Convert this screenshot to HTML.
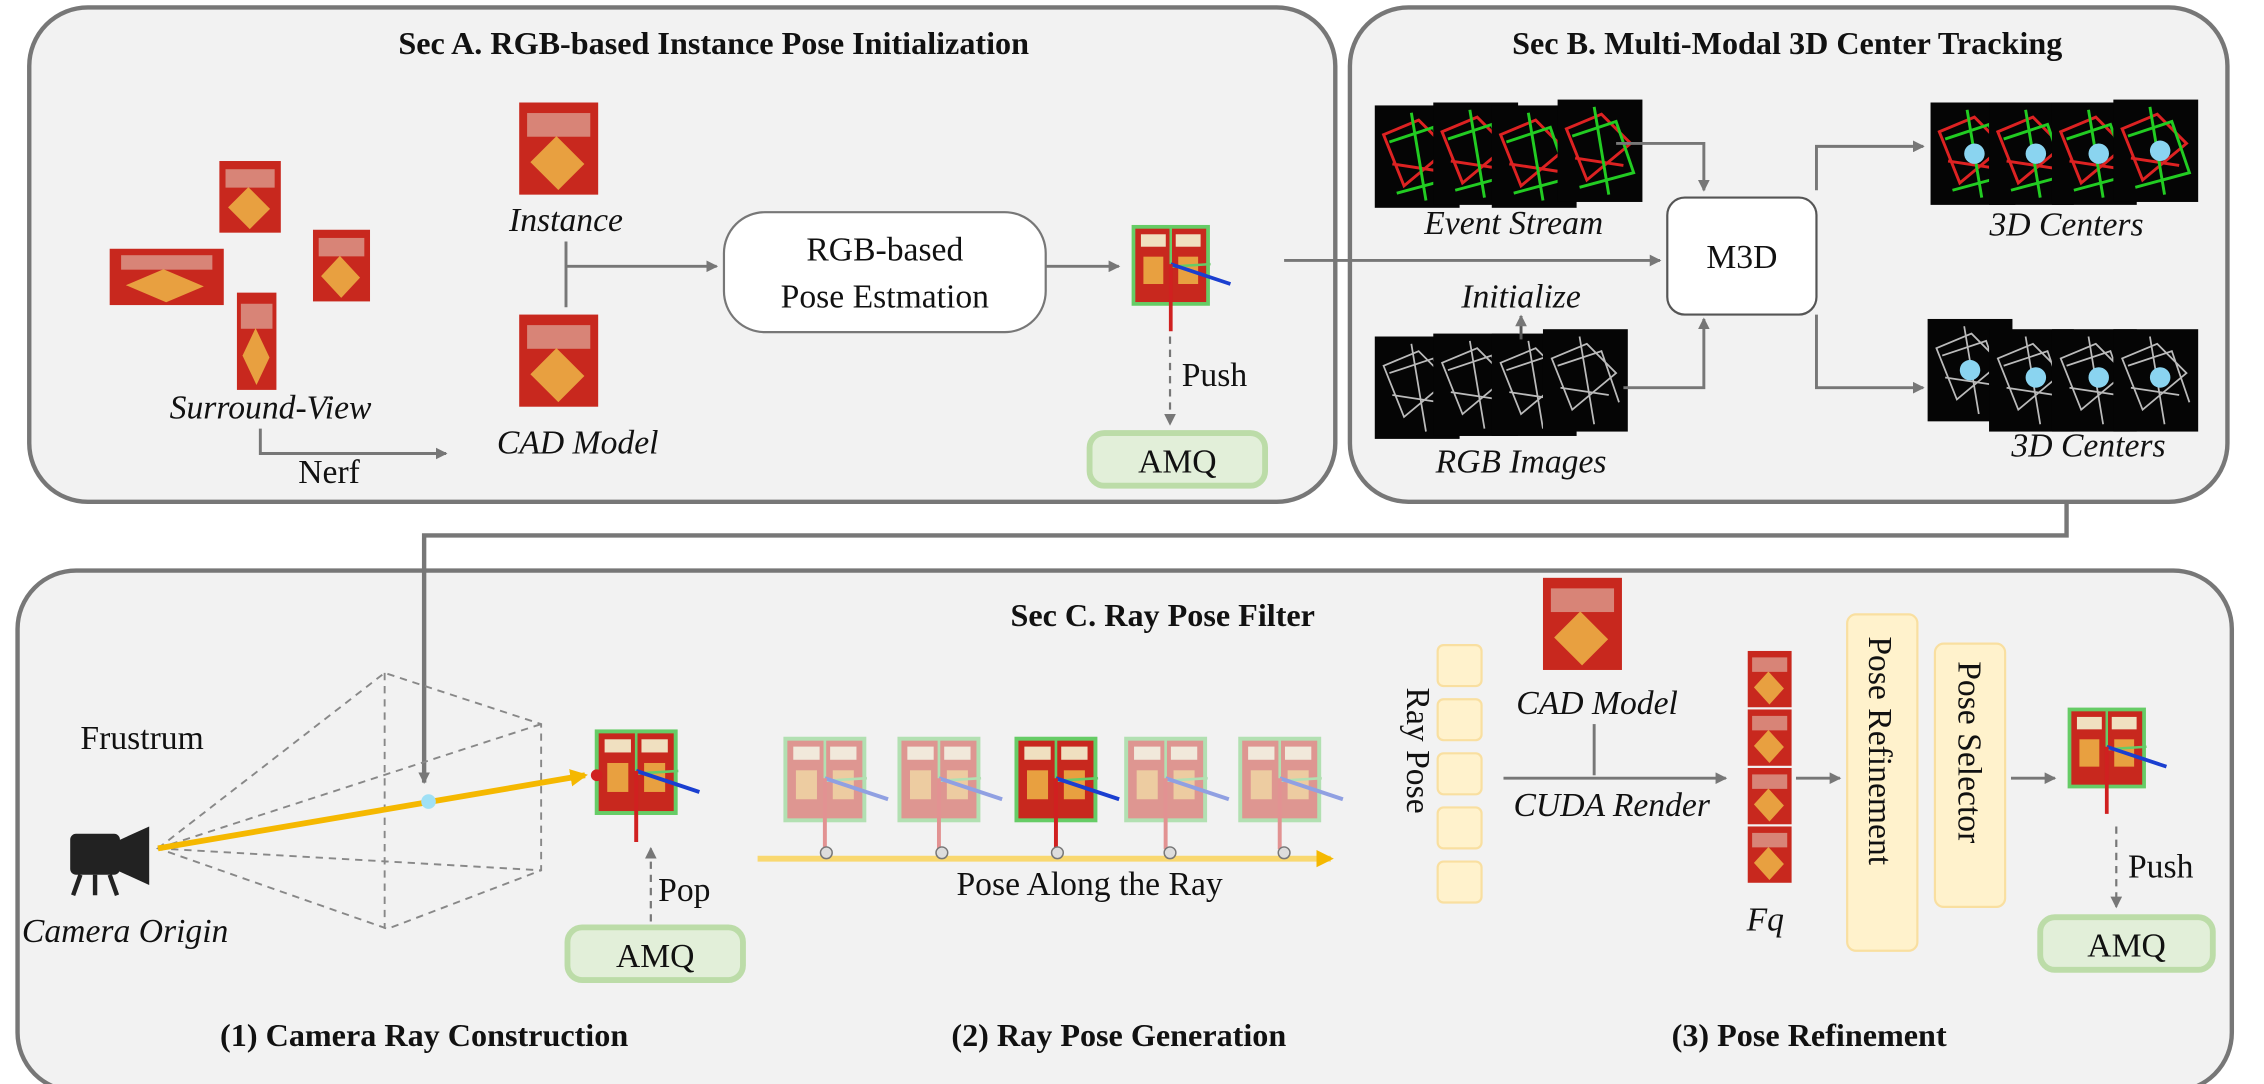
<!DOCTYPE html>
<html><head><meta charset="utf-8"><style>
html,body{margin:0;padding:0;background:#fff;width:2264px;height:1084px;overflow:hidden}
svg{display:block}
text{font-family:"Liberation Serif",serif;fill:#111}
.t{font-weight:bold;font-size:22px}
.i{font-style:italic;font-size:23px}
.n{font-size:23px}
</style></head><body>
<svg width="2264" height="1084" viewBox="0 0 1548 741" xmlns="http://www.w3.org/2000/svg">
<defs>
<marker id="a" markerWidth="8" markerHeight="8" refX="7" refY="4" orient="auto" markerUnits="userSpaceOnUse"><path d="M0,0 L8,4 L0,8 z" fill="#777"/></marker>
<marker id="y" markerWidth="12" markerHeight="12" refX="10" refY="6" orient="auto" markerUnits="userSpaceOnUse"><path d="M0,0 L12,6 L0,12 z" fill="#f5b800"/></marker>
<g id="box"><rect x="0" y="0" width="60" height="70" fill="#c8281e"/><rect x="6" y="8" width="48" height="18" fill="#e8e0d0" opacity=".5"/><rect x="14" y="32" width="30" height="28" fill="#e8a040" transform="rotate(45 29 46)"/></g>
<g id="cube"><rect x="0" y="0" width="60" height="62" fill="#c8281e" stroke="#6c6" stroke-width="3"/><line x1="30" y1="0" x2="30" y2="62" stroke="#6c6" stroke-width="2"/><rect x="6" y="6" width="20" height="10" fill="#f0e0c0"/><rect x="34" y="6" width="20" height="10" fill="#f0e0c0"/><rect x="8" y="24" width="16" height="22" fill="#e8a040"/><rect x="36" y="24" width="16" height="22" fill="#e8a040"/><line x1="30" y1="32" x2="62" y2="30" stroke="#6c6" stroke-width="2"/><line x1="30" y1="30" x2="78" y2="46" stroke="#1a3fd0" stroke-width="3"/><line x1="30" y1="30" x2="30" y2="84" stroke="#d02020" stroke-width="3"/></g>
<g id="ev"><rect x="0" y="0" width="58" height="70" fill="#050505"/><path d="M6 20 L30 10 L50 30 L20 55 Z M12 40 L45 45" stroke="#d22" stroke-width="2" fill="none"/><path d="M10 25 L40 15 L52 50 L15 60 M25 5 L35 65" stroke="#2c2" stroke-width="2" fill="none"/></g>
<g id="gr"><rect x="0" y="0" width="58" height="70" fill="#050505"/><path d="M6 20 L30 10 L50 30 L20 55 Z M12 40 L45 45 M25 5 L35 65 M10 25 L40 15 L52 50" stroke="#bbb" stroke-width="1.2" fill="none"/></g>
</defs>
<rect width="1548" height="741" fill="#fff"/>
<!-- Sec A -->
<rect x="20" y="5" width="893" height="338" rx="40" fill="#f2f2f2" stroke="#777" stroke-width="3"/>
<text x="488" y="37" class="t" text-anchor="middle">Sec A. RGB-based Instance Pose Initialization</text>
<use href="#box" transform="translate(150,110) scale(0.7,0.7)"/>
<use href="#box" transform="translate(75,170) scale(1.3,0.55)"/>
<use href="#box" transform="translate(214,157) scale(0.65,0.7)"/>
<use href="#box" transform="translate(162,200) scale(0.45,0.95)"/>
<text x="185" y="286" class="i" text-anchor="middle">Surround-View</text>
<path d="M178 293 V310 H305" stroke="#777" stroke-width="2" fill="none" marker-end="url(#a)"/>
<text x="225" y="330" class="n" text-anchor="middle">Nerf</text>
<use href="#box" transform="translate(355,70) scale(0.9,0.9)"/>
<text x="387" y="158" class="i" text-anchor="middle">Instance</text>
<line x1="387" y1="165" x2="387" y2="210" stroke="#777" stroke-width="2"/>
<line x1="387" y1="182" x2="490" y2="182" stroke="#777" stroke-width="2" marker-end="url(#a)"/>
<use href="#box" transform="translate(355,215) scale(0.9,0.9)"/>
<text x="395" y="310" class="i" text-anchor="middle">CAD Model</text>
<rect x="495" y="145" width="220" height="82" rx="28" fill="#fff" stroke="#777" stroke-width="1.5"/>
<text x="605" y="178" class="n" text-anchor="middle">RGB-based</text>
<text x="605" y="210" class="n" text-anchor="middle">Pose Estmation</text>
<line x1="715" y1="182" x2="765" y2="182" stroke="#777" stroke-width="2" marker-end="url(#a)"/>
<use href="#cube" transform="translate(775,155) scale(0.85)"/>
<line x1="800" y1="230" x2="800" y2="290" stroke="#777" stroke-width="1.5" stroke-dasharray="5,4" marker-end="url(#a)"/>
<text x="808" y="264" class="n">Push</text>
<rect x="745" y="296" width="120" height="36" rx="10" fill="#e2efd9" stroke="#bcdca8" stroke-width="4"/>
<text x="805" y="323" class="n" text-anchor="middle">AMQ</text>
<!-- Sec B -->
<rect x="923" y="5" width="600" height="338" rx="40" fill="#f2f2f2" stroke="#777" stroke-width="3"/>
<text x="1222" y="37" class="t" text-anchor="middle">Sec B. Multi-Modal 3D Center Tracking</text>
<use href="#ev" transform="translate(940,72)"/><use href="#ev" transform="translate(980,70)"/><use href="#ev" transform="translate(1020,72)"/><use href="#ev" transform="translate(1065,68)"/>
<text x="1035" y="160" class="i" text-anchor="middle">Event Stream</text>
<use href="#gr" transform="translate(940,230)"/><use href="#gr" transform="translate(980,228)"/><use href="#gr" transform="translate(1020,228)"/><use href="#gr" transform="translate(1055,225)"/>
<text x="1040" y="210" class="i" text-anchor="middle">Initialize</text>
<line x1="1040" y1="232" x2="1040" y2="216" stroke="#555" stroke-width="2" marker-end="url(#a)"/>
<text x="1040" y="323" class="i" text-anchor="middle">RGB Images</text>
<path d="M1105 98 H1165 V130" stroke="#777" stroke-width="2" fill="none" marker-end="url(#a)"/>
<path d="M1110 265 H1165 V218" stroke="#777" stroke-width="2" fill="none" marker-end="url(#a)"/>
<path d="M878 178 H1135" stroke="#777" stroke-width="2" fill="none" marker-end="url(#a)"/>
<rect x="1140" y="135" width="102" height="80" rx="12" fill="#fff" stroke="#555" stroke-width="1.5"/>
<text x="1191" y="183" class="n" text-anchor="middle">M3D</text>
<path d="M1242 130 V100 H1315" stroke="#777" stroke-width="2" fill="none" marker-end="url(#a)"/>
<path d="M1242 215 V265 H1315" stroke="#777" stroke-width="2" fill="none" marker-end="url(#a)"/>
<use href="#ev" transform="translate(1320,70)"/><use href="#ev" transform="translate(1360,70)"/><use href="#ev" transform="translate(1403,70)"/><use href="#ev" transform="translate(1445,68)"/>
<g fill="#8ad4f0"><circle cx="1350" cy="105" r="7"/><circle cx="1392" cy="105" r="7"/><circle cx="1435" cy="105" r="7"/><circle cx="1477" cy="103" r="7"/></g>
<text x="1413" y="161" class="i" text-anchor="middle">3D Centers</text>
<use href="#gr" transform="translate(1318,218)"/><use href="#gr" transform="translate(1360,225)"/><use href="#gr" transform="translate(1403,225)"/><use href="#gr" transform="translate(1445,225)"/>
<g fill="#8ad4f0"><circle cx="1347" cy="253" r="7"/><circle cx="1392" cy="258" r="7"/><circle cx="1435" cy="258" r="7"/><circle cx="1477" cy="258" r="7"/></g>
<text x="1428" y="312" class="i" text-anchor="middle">3D Centers</text>
<!-- Sec C -->
<rect x="12" y="390" width="1514" height="356" rx="40" fill="#f2f2f2" stroke="#777" stroke-width="3"/>
<!-- connector B->C -->
<path d="M1413 343 V366 H290 V535" stroke="#777" stroke-width="3" fill="none" marker-end="url(#a)"/>
<text x="795" y="428" class="t" text-anchor="middle">Sec C. Ray Pose Filter</text>
<text x="55" y="512" class="n">Frustrum</text>
<g stroke="#888" stroke-width="1.3" stroke-dasharray="5,4" fill="none">
<path d="M108 580 L263 460 L370 495 L370 595 L265 635 Z M263 460 L263 635 M108 580 L370 495 M108 580 L370 595"/>
</g>
<g fill="#222"><rect x="48" y="570" width="34" height="28" rx="4"/><path d="M80 575 L102 565 L102 605 L80 595Z"/><path d="M55 598 L50 612 M65 598 L65 612 M75 598 L80 612" stroke="#222" stroke-width="3"/></g>
<text x="15" y="644" class="i">Camera Origin</text>
<line x1="108" y1="580" x2="400" y2="530" stroke="#f5b800" stroke-width="4" marker-end="url(#y)"/>
<circle cx="293" cy="548" r="5" fill="#9fe0f5"/>
<use href="#cube" transform="translate(408,500) scale(0.9)"/>
<circle cx="408" cy="530" r="4" fill="#d02020"/>
<line x1="445" y1="630" x2="445" y2="580" stroke="#777" stroke-width="1.5" stroke-dasharray="5,4" marker-end="url(#a)"/>
<text x="450" y="616" class="n">Pop</text>
<rect x="388" y="634" width="120" height="36" rx="10" fill="#e2efd9" stroke="#bcdca8" stroke-width="4"/>
<text x="448" y="661" class="n" text-anchor="middle">AMQ</text>
<line x1="518" y1="587" x2="910" y2="587" stroke="#f9d870" stroke-width="4" marker-end="url(#y)"/>
<g opacity=".45"><use href="#cube" transform="translate(537,505) scale(0.9)"/></g>
<g opacity=".45"><use href="#cube" transform="translate(615,505) scale(0.9)"/></g>
<use href="#cube" transform="translate(695,505) scale(0.9)"/>
<g opacity=".45"><use href="#cube" transform="translate(770,505) scale(0.9)"/></g>
<g opacity=".45"><use href="#cube" transform="translate(848,505) scale(0.9)"/></g>
<g fill="#ddd" stroke="#777"><circle cx="565" cy="583" r="4"/><circle cx="644" cy="583" r="4"/><circle cx="723" cy="583" r="4"/><circle cx="800" cy="583" r="4"/><circle cx="878" cy="583" r="4"/></g>
<text x="745" y="612" class="n" text-anchor="middle">Pose Along the Ray</text>
<text x="0" y="0" class="n" transform="translate(962,470) rotate(90)">Ray Pose</text>
<g fill="#fff2cc" stroke="#f9dfa0" stroke-width="1.5"><rect x="983" y="441" width="30" height="28" rx="4"/><rect x="983" y="478" width="30" height="28" rx="4"/><rect x="983" y="515" width="30" height="28" rx="4"/><rect x="983" y="552" width="30" height="28" rx="4"/><rect x="983" y="589" width="30" height="28" rx="4"/></g>
<use href="#box" transform="translate(1055,395) scale(0.9,0.9)"/>
<text x="1092" y="488" class="i" text-anchor="middle">CAD Model</text>
<line x1="1090" y1="495" x2="1090" y2="530" stroke="#777" stroke-width="2"/>
<line x1="1028" y1="532" x2="1180" y2="532" stroke="#777" stroke-width="2" marker-end="url(#a)"/>
<text x="1102" y="558" class="i" text-anchor="middle">CUDA Render</text>
<use href="#box" transform="translate(1195,445) scale(0.5,0.55)"/>
<use href="#box" transform="translate(1195,485) scale(0.5,0.55)"/>
<use href="#box" transform="translate(1195,525) scale(0.5,0.55)"/>
<use href="#box" transform="translate(1195,565) scale(0.5,0.55)"/>
<text x="1207" y="636" class="i" text-anchor="middle">Fq</text>
<line x1="1228" y1="532" x2="1258" y2="532" stroke="#777" stroke-width="2" marker-end="url(#a)"/>
<rect x="1263" y="420" width="48" height="230" rx="6" fill="#fff2cc" stroke="#f9dfa0" stroke-width="1.5"/>
<text class="n" transform="translate(1278,435) rotate(90)">Pose Refinement</text>
<rect x="1323" y="440" width="48" height="180" rx="6" fill="#fff2cc" stroke="#f9dfa0" stroke-width="1.5"/>
<text class="n" transform="translate(1339,452) rotate(90)">Pose Selector</text>
<line x1="1375" y1="532" x2="1405" y2="532" stroke="#777" stroke-width="2" marker-end="url(#a)"/>
<use href="#cube" transform="translate(1415,485) scale(0.85)"/>
<line x1="1447" y1="565" x2="1447" y2="620" stroke="#777" stroke-width="1.5" stroke-dasharray="5,4" marker-end="url(#a)"/>
<text x="1455" y="600" class="n">Push</text>
<rect x="1395" y="627" width="118" height="36" rx="10" fill="#e2efd9" stroke="#bcdca8" stroke-width="4"/>
<text x="1454" y="654" class="n" text-anchor="middle">AMQ</text>
<text x="290" y="715" class="t" text-anchor="middle">(1) Camera Ray Construction</text>
<text x="765" y="715" class="t" text-anchor="middle">(2) Ray Pose Generation</text>
<text x="1237" y="715" class="t" text-anchor="middle">(3) Pose Refinement</text>
</svg>
</body></html>
